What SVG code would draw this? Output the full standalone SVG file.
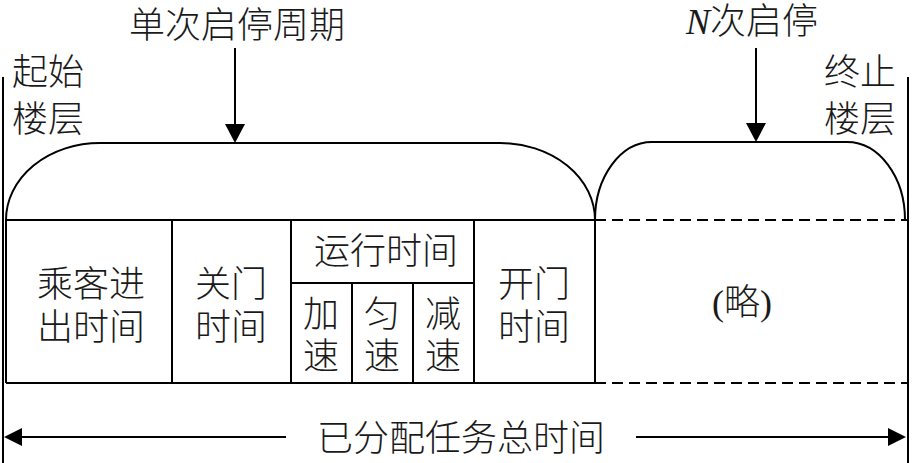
<svg xmlns="http://www.w3.org/2000/svg" width="913" height="463" viewBox="0 0 913 463">
<defs>
<style>
text{font-family:"Liberation Serif","Noto Sans CJK SC",serif;font-size:36px;font-weight:300;fill:#1a1a1a;text-anchor:middle}
.ln{stroke:#000;stroke-width:2;fill:none}
.ds{stroke:#000;stroke-width:2;fill:none;stroke-dasharray:11 6}
.ah{fill:#000;stroke:none}
</style>
</defs>
<rect width="913" height="463" fill="#fff"/>
<g id="boundaries">
<line class="ln" x1="3" y1="77" x2="3" y2="463"/>
<line class="ln" x1="908" y1="77" x2="908" y2="463"/>
<text x="48" y="85">起始</text>
<text x="48" y="132">楼层</text>
<text x="860" y="85">终止</text>
<text x="860" y="132">楼层</text>
</g>
<g id="single-cycle">
<path class="ln" d="M6,220 A94,77 0 0 1 100,143 H500 A95,77 0 0 1 595,220"/>
<text x="237" y="38">单次启停周期</text>
</g>
<g id="n-cycles">
<path class="ln" d="M595,220 A57,78 0 0 1 652,142 H847 A58,78 0 0 1 905,220"/>
<text x="752" y="34"><tspan font-style="italic">N</tspan>次启停</text>
</g>
<g id="table">
<path class="ln" d="M6,220 H595 M6,383 H595 M6,220 V383 M172,220 V383 M291,220 V383 M474,220 V383 M595,220 V383 M291,283 H474 M352,283 V383 M413,283 V383"/>
</g>
<g id="cell-boarding"><text x="91" y="297">乘客进</text><text x="91" y="340">出时间</text></g>
<g id="cell-close"><text x="231" y="297">关门</text><text x="231" y="340">时间</text></g>
<g id="cell-run"><text x="386" y="264">运行时间</text></g>
<g id="cell-accel"><text x="321" y="327">加</text><text x="321" y="369">速</text></g>
<g id="cell-const"><text x="382" y="327">匀</text><text x="382" y="369">速</text></g>
<g id="cell-decel"><text x="443" y="327">减</text><text x="443" y="369">速</text></g>
<g id="cell-open"><text x="534" y="297">开门</text><text x="534" y="340">时间</text></g>
<g id="cell-omitted">
<path class="ds" d="M595,220 H908 M595,383 H908"/>
<text x="742" y="315">(略)</text>
</g>
<g id="connectors">
<line class="ln" x1="235" y1="48" x2="235" y2="128"/>
<polygon class="ah" points="225,124 245,124 235,143"/>
<line class="ln" x1="756" y1="48" x2="756" y2="128"/>
<polygon class="ah" points="746,123 766,123 756,142"/>
<line class="ln" x1="18" y1="437" x2="286" y2="437"/>
<polygon class="ah" points="4,437 22,428 22,446"/>
<line class="ln" x1="636" y1="437" x2="892" y2="437"/>
<polygon class="ah" points="906,437 888,428 888,446"/>
<text x="461" y="451">已分配任务总时间</text>
</g>
</svg>
